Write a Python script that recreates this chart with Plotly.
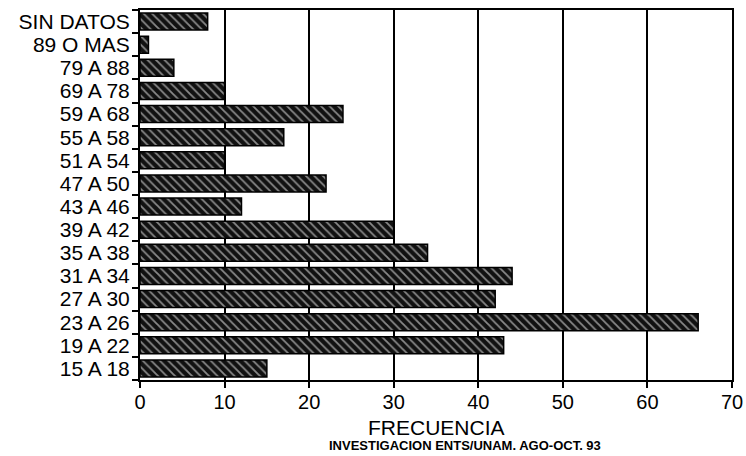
import plotly.graph_objects as go

categories = ["15 A 18", "19 A 22", "23 A 26", "27 A 30", "31 A 34", "35 A 38",
              "39 A 42", "43 A 46", "47 A 50", "51 A 54", "55 A 58", "59 A 68",
              "69 A 78", "79 A 88", "89 O MAS", "SIN DATOS"]
frecuencia = [15, 43, 66, 42, 44, 34, 30, 12, 22, 10, 17, 24, 10, 4, 1, 8]
x_ticks = [0, 10, 20, 30, 40, 50, 60, 70]
x_title = "FRECUENCIA"
source_note = "INVESTIGACION ENTS/UNAM. AGO-OCT. 93"

FONT = "Liberation Sans, Arial, sans-serif"

fig = go.Figure()
fig.add_trace(go.Bar(
    x=frecuencia, y=categories, orientation="h",
    marker=dict(color="#111111",
                line=dict(color="black", width=1.5),
                pattern=dict(shape="\\", fgcolor="white", bgcolor="#111111",
                             size=6, solidity=0.3)),
    hoverinfo="x+y",
))

fig.update_layout(
    width=746, height=456,
    margin=dict(l=140, r=14, t=10, b=76, autoexpand=False),
    paper_bgcolor="white", plot_bgcolor="white",
    bargap=0.26,
    showlegend=False,
    font=dict(family=FONT, color="black"),
    xaxis=dict(range=[0, 70], tickmode="array", tickvals=x_ticks,
               ticks="outside", ticklen=6,
               tickwidth=1.5, tickcolor="black", automargin=False,
               showgrid=True, gridcolor="black", gridwidth=1.5,
               showline=True, linecolor="black", linewidth=2, mirror=True,
               zeroline=False, tickfont=dict(size=20, family=FONT),
               ticklabelstandoff=-3),
    yaxis=dict(type="category", categoryorder="array", categoryarray=categories,
               tickmode="array", tickvals=categories, ticktext=categories,
               ticks="outside", ticklen=6, tickwidth=1.5, tickcolor="black",
               tickson="boundaries", showgrid=False, automargin=False,
               showline=True, linecolor="black", linewidth=2, mirror=True,
               tickfont=dict(size=21, family=FONT), ticklabelstandoff=4),
)

fig.add_annotation(text=x_title, xref="paper", yref="paper", x=0.5, y=-0.128,
                   xanchor="center", yanchor="middle", showarrow=False,
                   font=dict(size=21, family=FONT))
fig.add_annotation(text="<b>" + source_note + "</b>", xref="paper", yref="paper",
                   x=0.549, y=-0.176, xanchor="center", yanchor="middle",
                   showarrow=False, font=dict(size=13, family=FONT))

fig.write_html("out.html", config={"displayModeBar": False},
               post_script="document.body.style.margin='0';"
                           "document.body.style.overflow='hidden';")
